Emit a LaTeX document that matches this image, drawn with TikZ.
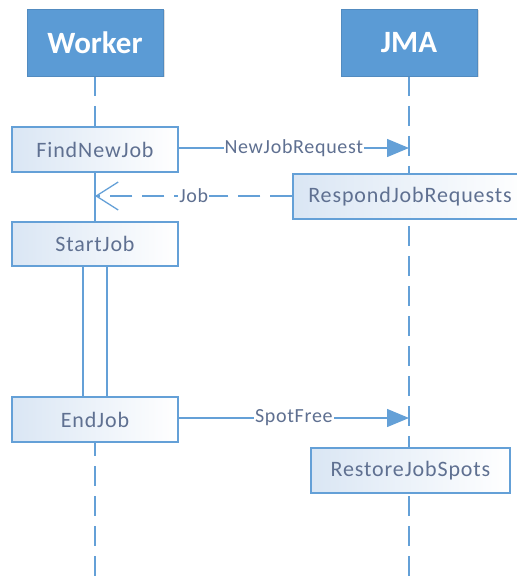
\documentclass[tikz,border=0pt]{standalone}
\usepackage{fontspec}
\setmainfont{Carlito}
\usetikzlibrary{arrows.meta,shadows}
\definecolor{hdrblue}{RGB}{91,155,213}
\definecolor{lineblue}{RGB}{100,160,215}
\definecolor{txtblue}{RGB}{95,112,145}
\definecolor{tintblue}{RGB}{218,230,244}
\tikzset{
  header/.style={draw=hdrblue!90!black, fill=hdrblue, line width=0.6pt, inner sep=0pt,
    text=white, font=\fontsize{31}{36}\selectfont\bfseries,
    drop shadow={opacity=0.25, shadow xshift=1.5pt, shadow yshift=-1.5pt}},
  actbox/.style={draw=lineblue, line width=1.3pt, inner sep=0pt, left color=tintblue, right color=white,
    text=txtblue, font=\fontsize{22}{26}\selectfont\addfontfeature{LetterSpace=4}},
  lifeline/.style={draw=lineblue, line width=1.4pt, dash pattern=on 20pt off 10pt},
  msg/.style={draw=lineblue, line width=1.3pt},
  lbl/.style={fill=white, inner sep=1pt, text=txtblue, font=\fontsize{20}{24}\selectfont\addfontfeature{LetterSpace=3.5}},
}
\begin{document}
\begin{tikzpicture}[x=1pt,y=-1pt]
\useasboundingbox (0,0) rectangle (516,577);
% lifelines
\coordinate (wtop) at (95,76);
\coordinate (wbot) at (95,577);
\coordinate (jtop) at (409,76);
\coordinate (jbot) at (409,577);
\draw[lifeline] (wtop) -- (wbot);
\draw[lifeline] (jtop) -- (jbot);
% headers
\node[header, minimum width=136pt, minimum height=67pt] (worker) at (95,42.5) {Worker};
\node[header, minimum width=136pt, minimum height=67pt] (jma) at (409,42.5) {JMA};
% boxes
\node[actbox, minimum width=166pt, minimum height=45pt] (find) at (95,149.5) {FindNewJob};
\node[actbox, minimum width=234pt, minimum height=45pt] (respond) at (410,196.5) {RespondJobRequests};
\node[actbox, minimum width=166pt, minimum height=44pt] (start) at (95,244) {StartJob};
\node[draw=lineblue, line width=1.3pt, fill=white, minimum width=24pt, minimum height=131pt, inner sep=0pt] (bar) at (95,331.5) {};
\node[actbox, minimum width=166pt, minimum height=45pt] (end) at (95,419.5) {EndJob};
\node[actbox, minimum width=199pt, minimum height=45pt] (restore) at (410.5,470.5) {RestoreJobSpots};
\draw[msg] (find.south) -- (start.north);
% messages
\coordinate (req) at (409,148);
\coordinate (jobend) at (95,196);
\coordinate (free) at (409,418);
\draw[msg, -{Triangle[length=22pt,width=18pt]}] (find.east |- req) -- node[lbl]{NewJobRequest} (req);
\draw[msg, dash pattern=on 22pt off 10pt, -{Straight Barb[length=22pt,width=28pt,line width=1.3pt]}] (respond.west |- jobend) -- node[lbl, pos=0.5]{Job} (jobend);
\draw[msg, -{Triangle[length=22pt,width=18pt]}] (end.east |- free) -- node[lbl]{SpotFree} (free);
\end{tikzpicture}
\end{document}
